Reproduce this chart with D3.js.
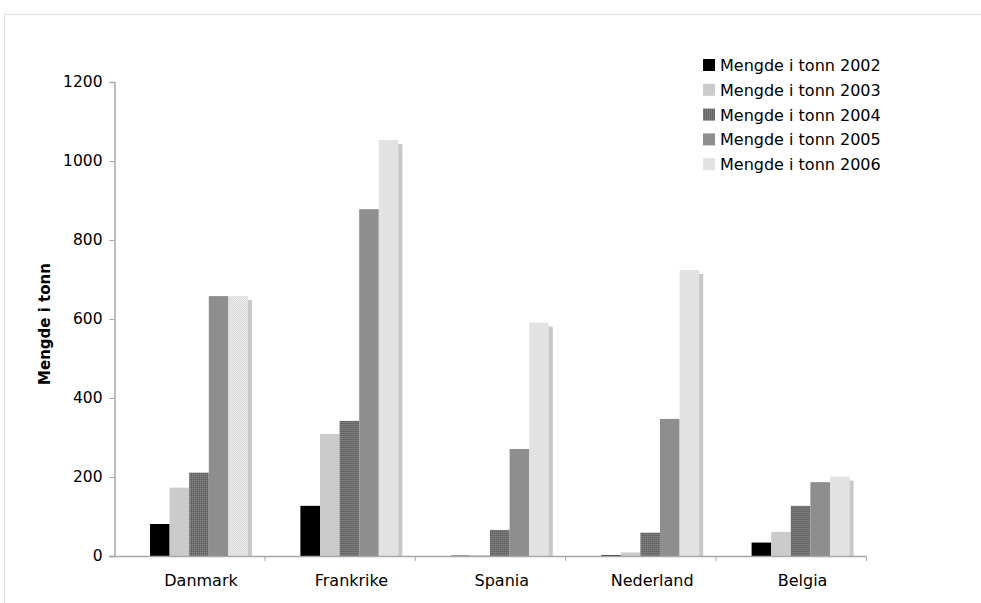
<!DOCTYPE html>
<html>
<head>
<meta charset="utf-8">
<script src="https://cdn.jsdelivr.net/npm/d3@7"></script>
<style>
  html, body { margin: 0; padding: 0; background: #fff; }
  svg { display: block; font-family: Verdana, "DejaVu Sans", sans-serif; }
</style>
</head>
<body>
<svg id="chart" width="981" height="603"></svg>
<script>
// Quantities (tonnes) per country and year
const countries = ["Danmark", "Frankrike", "Spania", "Nederland", "Belgia"];
const years = ["2002", "2003", "2004", "2005", "2006"];
const values2002 = [81, 127, 1, 2, 34];
const values2003 = [173, 309, 2, 9, 61];
const values2004 = [211, 342, 66, 59, 127];
const values2005 = [658, 878, 271, 347, 187];
const values2006 = [658, 1053, 591, 724, 201];
const yTicks = [0, 200, 400, 600, 800, 1000, 1200];

const series = [values2002, values2003, values2004, values2005, values2006];
const seriesNames = years.map(y => "Mengde i tonn " + y);

const svg = d3.select("#chart");

// Fills: solid and fine dotted textures
const defs = svg.append("defs");
const p4 = defs.append("pattern").attr("id", "pat2004")
  .attr("width", 2).attr("height", 2).attr("patternUnits", "userSpaceOnUse");
p4.append("rect").attr("width", 2).attr("height", 2).attr("fill", "#6e6e6e");
p4.append("rect").attr("width", 1).attr("height", 1).attr("fill", "#8a8a8a");
p4.append("rect").attr("x", 1).attr("y", 1).attr("width", 1).attr("height", 1).attr("fill", "#5e5e5e");
const p6 = defs.append("pattern").attr("id", "pat2006")
  .attr("width", 2).attr("height", 2).attr("patternUnits", "userSpaceOnUse");
p6.append("rect").attr("width", 2).attr("height", 2).attr("fill", "#ebebeb");
p6.append("rect").attr("width", 1).attr("height", 1).attr("fill", "#dadada");
p6.append("rect").attr("x", 1).attr("y", 1).attr("width", 1).attr("height", 1).attr("fill", "#dadada");

const fills = ["#000000", "#cbcbcb", "url(#pat2004)", "#8e8e8e", "url(#pat2006)"];

// Outer frame lines
svg.append("line").attr("x1", 4).attr("x2", 981).attr("y1", 14.5).attr("y2", 14.5)
  .attr("stroke", "#e0e0e0");
svg.append("line").attr("x1", 4.5).attr("x2", 4.5).attr("y1", 14).attr("y2", 603)
  .attr("stroke", "#e0e0e0");

const plot = { left: 114, right: 866, top: 82, bottom: 556 };

const x0 = d3.scaleBand().domain(countries).range([plot.left, plot.right]).paddingInner(0).paddingOuter(0);
const x1 = d3.scaleBand().domain(years).range([36, 36 + 98]);
const y = d3.scaleLinear().domain([0, 1200]).range([plot.bottom, plot.top]);

// Y axis
const yAxis = svg.append("g").attr("transform", `translate(${plot.left + 0.5},0)`)
  .call(d3.axisLeft(y).tickValues(yTicks).tickSize(5).tickPadding(7).tickFormat(d3.format("d")));
yAxis.select(".domain").attr("stroke", "#a8a8a8").attr("stroke-width", 1.5);
yAxis.selectAll(".tick line").attr("stroke", "#a8a8a8");
yAxis.selectAll(".tick text").attr("font-size", 15.5).attr("fill", "#000")
  .attr("font-family", "Verdana, 'DejaVu Sans', sans-serif");

// Bars
const groups = svg.append("g").selectAll("g").data(countries).join("g")
  .attr("transform", d => `translate(${x0(d)},0)`);

groups.each(function(country, ci) {
  const g = d3.select(this);
  years.forEach((yr, si) => {
    const v = series[si][ci];
    const bx = x1(yr), bw = x1.bandwidth();
    if (si === 4) {
      // drop shadow behind the last bar
      g.append("rect").attr("x", bx + 4).attr("y", y(v) + 4)
        .attr("width", bw).attr("height", Math.max(0, plot.bottom - y(v) - 4))
        .attr("fill", "#c8c8c8");
    }
    g.append("rect").attr("x", bx).attr("y", y(v))
      .attr("width", bw).attr("height", plot.bottom - y(v))
      .attr("fill", fills[si]);
  });
});

// X axis: baseline, boundary ticks, labels centred under each bar group
svg.append("line").attr("x1", plot.left - 5).attr("x2", plot.right)
  .attr("y1", plot.bottom + 0.5).attr("y2", plot.bottom + 0.5)
  .attr("stroke", "#a8a8a8").attr("stroke-width", 1.5);
const bounds = countries.map(c => x0(c)).concat([plot.right]);
svg.append("g").selectAll("line").data(bounds.slice(1)).join("line")
  .attr("x1", d => d + 0.5).attr("x2", d => d + 0.5)
  .attr("y1", plot.bottom).attr("y2", plot.bottom + 5)
  .attr("stroke", "#a8a8a8");
svg.append("g").selectAll("text").data(countries).join("text")
  .attr("x", d => x0(d) + 87)
  .attr("y", plot.bottom + 30)
  .attr("text-anchor", "middle")
  .attr("font-size", 16).attr("fill", "#000")
  .text(d => d);

// Y axis title
svg.append("text")
  .attr("transform", `translate(50,${(plot.top + plot.bottom) / 2 + 5}) rotate(-90)`)
  .attr("text-anchor", "middle")
  .attr("font-size", 15).attr("font-weight", "bold")
  .text("Mengde i tonn");

// Legend
const legend = svg.append("g").attr("transform", "translate(703,59)");
seriesNames.forEach((name, i) => {
  const row = legend.append("g").attr("transform", `translate(0,${i * 24.8})`);
  row.append("rect").attr("width", 12).attr("height", 12).attr("fill", fills[i]);
  row.append("text").attr("x", 17).attr("y", 12).attr("font-size", 16)
    .attr("fill", "#000").text(name);
});
</script>
</body>
</html>
